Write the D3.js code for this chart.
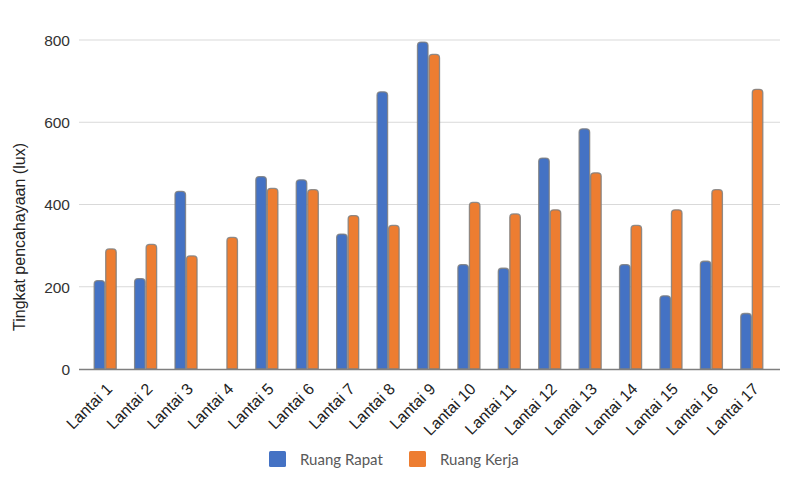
<!DOCTYPE html>
<html>
<head>
<meta charset="utf-8">
<script src="https://cdn.jsdelivr.net/npm/d3@7"></script>
<style>
  html, body { margin: 0; padding: 0; background: #fff; }
  svg { display: block; }
</style>
</head>
<body>
<svg id="chart" width="785" height="485"></svg>
<script>
// Illuminance per floor, two room types
const floors = ["Lantai 1","Lantai 2","Lantai 3","Lantai 4","Lantai 5","Lantai 6","Lantai 7","Lantai 8","Lantai 9",
                "Lantai 10","Lantai 11","Lantai 12","Lantai 13","Lantai 14","Lantai 15","Lantai 16","Lantai 17"];
const seriesNames = ["Ruang Rapat", "Ruang Kerja"];
const ruangRapat = [215, 220, 432, 0, 468, 460, 328, 674, 795, 254, 245, 513, 584, 254, 178, 262, 135];
const ruangKerja = [292, 303, 275, 320, 439, 436, 373, 349, 765, 405, 377, 387, 477, 349, 387, 436, 680];
const yTicks = [0, 200, 400, 600, 800];
const yTitle = "Tingkat pencahayaan (lux)";
const colors = ["#4472C4", "#ED7D31"];

const svg = d3.select("#chart");
const gridLeft = 79, gridRight = 780;
const axisFont = "'Liberation Sans', Arial, sans-serif";

const x0 = d3.scaleBand().domain(floors).range([85, 772]).paddingInner(0.43).paddingOuter(0.215);
const x1 = d3.scaleBand().domain(seriesNames).range([0, x0.bandwidth()]);
const y = d3.scaleLinear().domain([0, 800]).range([369, 40]);

// gridlines
svg.append("g").selectAll("line").data(yTicks.filter(d => d > 0)).join("line")
  .attr("x1", gridLeft).attr("x2", gridRight)
  .attr("y1", d => y(d)).attr("y2", d => y(d))
  .attr("stroke", "#d9d9d9").attr("stroke-width", 1);

// y axis labels
const yAxis = d3.axisLeft(y).tickValues(yTicks).tickSize(0).tickPadding(0);
const gy = svg.append("g").attr("transform", `translate(70,0)`).call(yAxis);
gy.select(".domain").remove();
gy.selectAll("text").attr("font-family", axisFont)
  .attr("font-size", 15.5).attr("fill", "#333").attr("dy", "0.35em");

// y title
svg.append("text")
  .attr("transform", "translate(25,237) rotate(-90)")
  .attr("text-anchor", "middle")
  .attr("font-family", axisFont)
  .attr("font-size", 16).attr("fill", "#222")
  .text(yTitle);

// bars with rounded tops
function barPath(x, w, y0, y1, r) {
  const h = y0 - y1;
  if (h <= 0) return "";
  r = Math.min(r, w / 2, h);
  return `M${x},${y0} V${y1 + r} Q${x},${y1} ${x + r},${y1} H${x + w - r} Q${x + w},${y1} ${x + w},${y1 + r} V${y0} Z`;
}
const rows = floors.map((f, i) => ({ floor: f, values: [ruangRapat[i], ruangKerja[i]] }));
const groups = svg.append("g").selectAll("g").data(rows).join("g")
  .attr("transform", d => `translate(${x0(d.floor)},0)`);
groups.selectAll("path").data(d => d.values.map((v, k) => ({ k, v }))).join("path")
  .attr("d", d => barPath(x1(seriesNames[d.k]) + 0.5, x1.bandwidth() - 1, y(0), y(d.v), 3.5))
  .attr("fill", d => colors[d.k])
  .attr("stroke", "#7f7f7f").attr("stroke-width", 1.3).attr("stroke-opacity", 0.85);

// x axis line
svg.append("line").attr("x1", gridLeft).attr("x2", gridRight)
  .attr("y1", y(0) + 0.5).attr("y2", y(0) + 0.5)
  .attr("stroke", "#7f7f7f").attr("stroke-width", 1.5);

// x labels, rotated
svg.append("g").selectAll("text").data(floors).join("text")
  .attr("transform", d => `translate(${x0(d) + x0.bandwidth() / 2 + 8},390) rotate(-45)`)
  .attr("text-anchor", "end")
  .attr("font-family", axisFont)
  .attr("font-size", 16).attr("fill", "#222")
  .text(d => d);

// legend
const legendX = [269, 409];
const lg = svg.append("g").selectAll("g").data(seriesNames).join("g")
  .attr("transform", (d, i) => `translate(${legendX[i]},451)`);
lg.append("rect").attr("width", 17).attr("height", 16).attr("rx", 1.5)
  .attr("fill", (d, i) => colors[i]);
lg.append("text").attr("x", 31).attr("y", 14)
  .attr("font-family", "Lato, 'Open Sans', sans-serif")
  .attr("font-size", 15).attr("fill", "#595959")
  .text(d => d);
</script>
</body>
</html>
